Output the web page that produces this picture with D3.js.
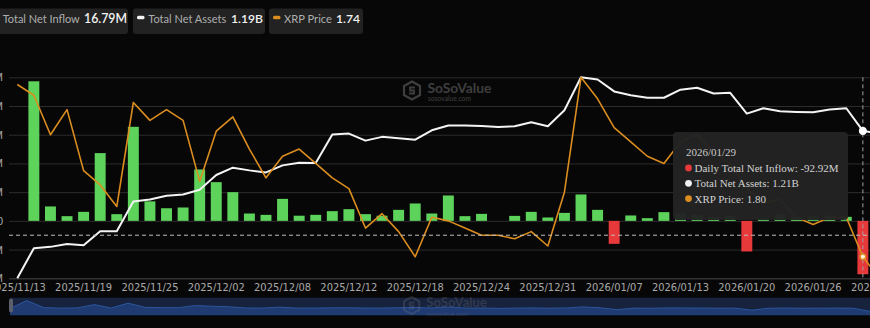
<!DOCTYPE html>
<html>
<head>
<meta charset="utf-8">
<script src="https://cdn.jsdelivr.net/npm/d3@7"></script>
<style>
  html, body { margin: 0; padding: 0; background: #070707; overflow: hidden; }
  svg { display: block; }
</style>
</head>
<body>
<svg id="chart" width="870" height="328"></svg>
<script>
// Trading days shown on the category axis
const dates = [
  "2025/11/13","2025/11/14","2025/11/17","2025/11/18","2025/11/19","2025/11/20","2025/11/21",
  "2025/11/24","2025/11/25","2025/11/26","2025/11/28","2025/12/01","2025/12/02","2025/12/03",
  "2025/12/04","2025/12/05","2025/12/08","2025/12/09","2025/12/10","2025/12/11","2025/12/12",
  "2025/12/15","2025/12/16","2025/12/17","2025/12/18","2025/12/19","2025/12/22","2025/12/23",
  "2025/12/24","2025/12/26","2025/12/29","2025/12/30","2025/12/31","2026/01/02","2026/01/05",
  "2026/01/06","2026/01/07","2026/01/08","2026/01/09","2026/01/12","2026/01/13","2026/01/14",
  "2026/01/15","2026/01/16","2026/01/20","2026/01/21","2026/01/22","2026/01/23","2026/01/26",
  "2026/01/27","2026/01/28","2026/01/29","2026/01/30"
];

// Daily total net inflow, USD millions
const netInflow = [
  0, 243.05, 25.1, 8.2, 15.7, 118.0, 11.7, 163.8, 34.0, 22.0, 23.3, 89.5, 67.4, 50.0,
  12.8, 10.5, 38.3, 9.0, 10.5, 16.9, 20.4, 11.7, 9.0, 19.2, 30.3, 12.8, 44.2, 8.2,
  12.2, 0, 8.7, 15.7, 5.9, 13.9, 46.0, 19.2, -40.0, 9.4, 4.7, 15.2, 12.9, 10.6,
  6.7, 8.4, -53.3, 4.3, 11.0, 6.4, 7.8, 9.2, 7.0, -92.92, 16.79
];

// Total net assets, USD billions
const totalAssets = [
  0, 0.247, 0.258, 0.282, 0.272, 0.387, 0.387, 0.631, 0.647, 0.677, 0.688, 0.727, 0.848, 0.908,
  0.886, 0.869, 0.927, 0.949, 0.947, 1.180, 1.188, 1.130, 1.161, 1.149, 1.138, 1.215, 1.254, 1.254,
  1.251, 1.243, 1.248, 1.281, 1.248, 1.380, 1.650, 1.632, 1.534, 1.503, 1.482, 1.482, 1.548, 1.564,
  1.517, 1.523, 1.352, 1.396, 1.371, 1.366, 1.363, 1.385, 1.396, 1.210, 1.190
];

// XRP daily price, USD
const xrpPrice = [
  2.28, 2.25, 2.14, 2.21, 2.04, 2.00, 1.94, 2.23, 2.18, 2.21, 2.18, 2.01, 2.15, 2.19,
  2.10, 2.02, 2.08, 2.10, 2.06, 2.02, 1.99, 1.88, 1.92, 1.87, 1.80, 1.91, 1.90, 1.88,
  1.86, 1.86, 1.85, 1.87, 1.83, 1.98, 2.30, 2.24, 2.16, 2.12, 2.08, 2.06, 2.12, 2.14,
  2.09, 2.06, 1.99, 1.95, 1.96, 1.91, 1.89, 1.91, 1.91, 1.80, 1.74
];

// Left axis ticks (USD millions)
const inflowTicks = [-100, -50, 0, 50, 100, 150, 200, 250];

// Highlighted day and pointer level (on the inflow axis)
const activeIndex = 51;
const pointerInflow = -25;

const COLORS = {
  bg: "#070707",
  grid: "#2c2c2c",
  up: "#5dd35b",
  down: "#e8393a",
  assets: "#f4f4f4",
  price: "#dc8d1f",
  label: "#a9a9a9"
};

const fmt2 = d3.formatLocale({ decimal: ".", thousands: ",", grouping: [3], currency: ["$", ""], minus: "-" }).format(".2f");
const fmtM = v => fmt2(v) + "M";
const fmtB = v => fmt2(v) + "B";
const fmtP = v => fmt2(v);

// Scale a text's font size so that it spans the given width
function fitWidth(sel, width) {
  const w = sel.node().getComputedTextLength();
  const fs = parseFloat(sel.style("font-size"));
  if (w > 0) sel.style("font-size", (fs * width / w).toFixed(2) + "px");
  return sel;
}

const svg = d3.select("#chart");
svg.append("rect").attr("width", 870).attr("height", 328).attr("fill", COLORS.bg);

const plot = { left: 9, top: 77.3, bottom: 278.3, step: 16.58 };
plot.right = plot.left + plot.step * dates.length;

const x = d3.scaleBand().domain(dates).range([plot.left, plot.right]).padding(0);
const cx = d => x(d) + x.bandwidth() / 2;
const barW = x.bandwidth() * 0.66;

const yL = d3.scaleLinear().domain([inflowTicks[0], inflowTicks[inflowTicks.length - 1]])
  .range([plot.bottom, plot.top]);
const yA = d3.scaleLinear().domain(d3.extent(totalAssets)).range([plot.bottom, plot.top]);
const yP = d3.scaleLinear().domain(d3.extent(xrpPrice)).range([plot.bottom, plot.top]);

// Grid + left axis labels
const yAxis = d3.axisLeft(yL)
  .tickValues(inflowTicks)
  .tickSize(-(plot.right - plot.left))
  .tickPadding(6)
  .tickFormat(d => d === 0 ? "0" : d + "M");
const gy = svg.append("g").attr("transform", `translate(${plot.left},0)`).call(yAxis);
gy.select(".domain").remove();
gy.selectAll(".tick line").attr("stroke", COLORS.grid).attr("stroke-width", 1);
gy.selectAll(".tick text").attr("fill", COLORS.label)
  .style("font", "11px 'Liberation Sans', Arial, sans-serif");

// Bottom category axis
const xAxis = d3.axisBottom(x)
  .tickValues(dates.filter((d, i) => i % 4 === 0))
  .tickSize(0)
  .tickPadding(5);
const gx = svg.append("g").attr("transform", `translate(0,${plot.bottom})`).call(xAxis);
gx.select(".domain").attr("stroke", "#3a3a3a");
gx.selectAll(".tick text").attr("fill", COLORS.label)
  .style("font", "11px 'Liberation Sans Narrow', 'DejaVu Sans Condensed', Arial, sans-serif");

// Watermark
function watermark(g, tx, ty, s, op) {
  const w = g.append("g").attr("transform", `translate(${tx},${ty}) scale(${s})`).attr("opacity", op);
  w.append("path")
    .attr("d", "M8,0 L16,4.5 L16,13.5 L8,18 L0,13.5 L0,4.5 Z")
    .attr("fill", "none").attr("stroke", "#8a8a8a").attr("stroke-width", 2.2);
  w.append("path")
    .attr("d", "M11,6 L6,6 L6,9 L10,9 L10,12 L5,12")
    .attr("fill", "none").attr("stroke", "#8a8a8a").attr("stroke-width", 1.8);
  fitWidth(w.append("text").attr("x", 23.5).attr("y", 11)
    .attr("fill", "#8a8a8a")
    .style("font", "bold 14px Lato, sans-serif").text("SoSoValue"), 64);
  fitWidth(w.append("text").attr("x", 24).attr("y", 19.5)
    .attr("fill", "#8a8a8a")
    .style("font", "6px Lato, sans-serif").text("sosovalue.com"), 43);
}
watermark(svg, 404, 81.5, 1, 0.42);

// Inflow bars
svg.append("g").selectAll("rect")
  .data(netInflow)
  .join("rect")
  .attr("x", (d, i) => cx(dates[i]) - barW / 2)
  .attr("y", d => yL(Math.max(0, d)))
  .attr("width", barW)
  .attr("height", d => Math.abs(yL(d) - yL(0)))
  .attr("fill", d => d >= 0 ? COLORS.up : COLORS.down);

// Total net assets line
const assetsLine = d3.line().x((d, i) => cx(dates[i])).y(d => yA(d));
svg.append("path").datum(totalAssets)
  .attr("d", assetsLine)
  .attr("fill", "none").attr("stroke", COLORS.assets)
  .attr("stroke-width", 2).attr("stroke-linejoin", "round");

// XRP price line
const priceLine = d3.line().x((d, i) => cx(dates[i])).y(d => yP(d));
svg.append("path").datum(xrpPrice)
  .attr("d", priceLine)
  .attr("fill", "none").attr("stroke", COLORS.price)
  .attr("stroke-width", 1.6).attr("stroke-linejoin", "round");

// Cross pointer
const ax = cx(dates[activeIndex]);
svg.append("line")
  .attr("x1", ax).attr("x2", ax).attr("y1", plot.top).attr("y2", plot.bottom)
  .attr("stroke", "#a0a0a0").attr("stroke-width", 1).attr("stroke-dasharray", "4,3");
svg.append("line")
  .attr("x1", plot.left).attr("x2", plot.right)
  .attr("y1", yL(pointerInflow)).attr("y2", yL(pointerInflow))
  .attr("stroke", "#bdbdbd").attr("stroke-width", 1).attr("stroke-dasharray", "4,3");

svg.append("circle").attr("cx", ax).attr("cy", yA(totalAssets[activeIndex])).attr("r", 3.6)
  .attr("fill", "#ffffff").attr("stroke", "#ffffff").attr("stroke-width", 1);
svg.append("circle").attr("cx", ax).attr("cy", yP(xrpPrice[activeIndex])).attr("r", 2.8)
  .attr("fill", "#fff3dc").attr("stroke", COLORS.price).attr("stroke-width", 1.4);

// Tooltip
const tip = svg.append("g").attr("transform", "translate(673,132)");
tip.append("rect").attr("width", 175).attr("height", 88).attr("rx", 4)
  .attr("fill", "#232323").attr("fill-opacity", 0.97);
const tipFont = "11px 'Liberation Serif', 'Times New Roman', serif";
tip.append("text").attr("x", 13).attr("y", 23.5).attr("fill", "#c9c9c9")
  .style("font", tipFont).text(dates[activeIndex]);
const rows = [
  { c: COLORS.down, t: "Daily Total Net Inflow: " + fmtM(netInflow[activeIndex]) },
  { c: "#f2f2f2", t: "Total Net Assets: " + fmtB(totalAssets[activeIndex]) },
  { c: COLORS.price, t: "XRP Price: " + fmtP(xrpPrice[activeIndex]) }
];
rows.forEach((r, k) => {
  const cy = 36 + k * 15.3;
  tip.append("circle").attr("cx", 15.5).attr("cy", cy).attr("r", 3.4).attr("fill", r.c);
  tip.append("text").attr("x", 21.5).attr("y", cy + 4).attr("fill", "#d2d2d2")
    .style("font", tipFont).text(r.t);
});

// Header summary chips
const last = dates.length - 1;
const chips = [
  { x0: -6, x1: 128, mark: null, lx: 2.7, lw: 77, vEnd: 127, vw: 43,
    label: "Total Net Inflow", value: fmtM(netInflow[last]) },
  { x0: 133, x1: 265, mark: COLORS.assets, lx: 148.3, lw: 78, vEnd: 263, vw: 32,
    label: "Total Net Assets", value: fmtB(totalAssets[last]) },
  { x0: 269, x1: 363, mark: COLORS.price, lx: 284, lw: 48, vEnd: 360, vw: 24,
    label: "XRP Price", value: fmtP(xrpPrice[last]) }
];
chips.forEach(ch => {
  const g = svg.append("g");
  g.append("rect").attr("x", ch.x0).attr("y", 8.5).attr("width", ch.x1 - ch.x0).attr("height", 25.5)
    .attr("rx", 3).attr("fill", "#222222");
  if (ch.mark) {
    g.append("rect").attr("x", ch.x0 + 4).attr("y", 15.8).attr("width", 7.5).attr("height", 3.4)
      .attr("rx", 1.5).attr("fill", ch.mark);
  }
  fitWidth(g.append("text").attr("x", ch.lx).attr("y", 22.5).attr("fill", "#aeaeae")
    .style("font", "12px Lato, sans-serif").text(ch.label), ch.lw);
  fitWidth(g.append("text").attr("x", ch.vEnd).attr("y", 22.8).attr("text-anchor", "end")
    .attr("fill", "#f2f2f2").style("font", "600 14px Lato, sans-serif").text(ch.value), ch.vw);
});

// Zoom slider with inflow preview
const slider = { left: 10, right: plot.right - 1, top: 297.7, bottom: 315.2 };
svg.append("rect").attr("x", slider.left).attr("y", slider.top)
  .attr("width", slider.right - slider.left).attr("height", slider.bottom - slider.top)
  .attr("fill", "#17223d");
const sx = d3.scalePoint().domain(dates).range([slider.left, slider.right]);
const sy = d3.scaleLinear().domain(d3.extent(netInflow)).range([311.4, 300.6]);
svg.append("path").datum(netInflow)
  .attr("d", d3.area().x((d, i) => sx(dates[i])).y0(slider.bottom).y1(d => sy(d)))
  .attr("fill", "#1f3b72");
svg.append("path").datum(netInflow)
  .attr("d", d3.line().x((d, i) => sx(dates[i])).y(d => sy(d)))
  .attr("fill", "none").attr("stroke", "#2c559e").attr("stroke-width", 1);
watermark(svg, 404, 297, 0.95, 0.22);
svg.append("rect").attr("x", 9).attr("y", 298.5).attr("width", 4).attr("height", 14)
  .attr("rx", 2).attr("fill", "#5a5f6b");
</script>
</body>
</html>
